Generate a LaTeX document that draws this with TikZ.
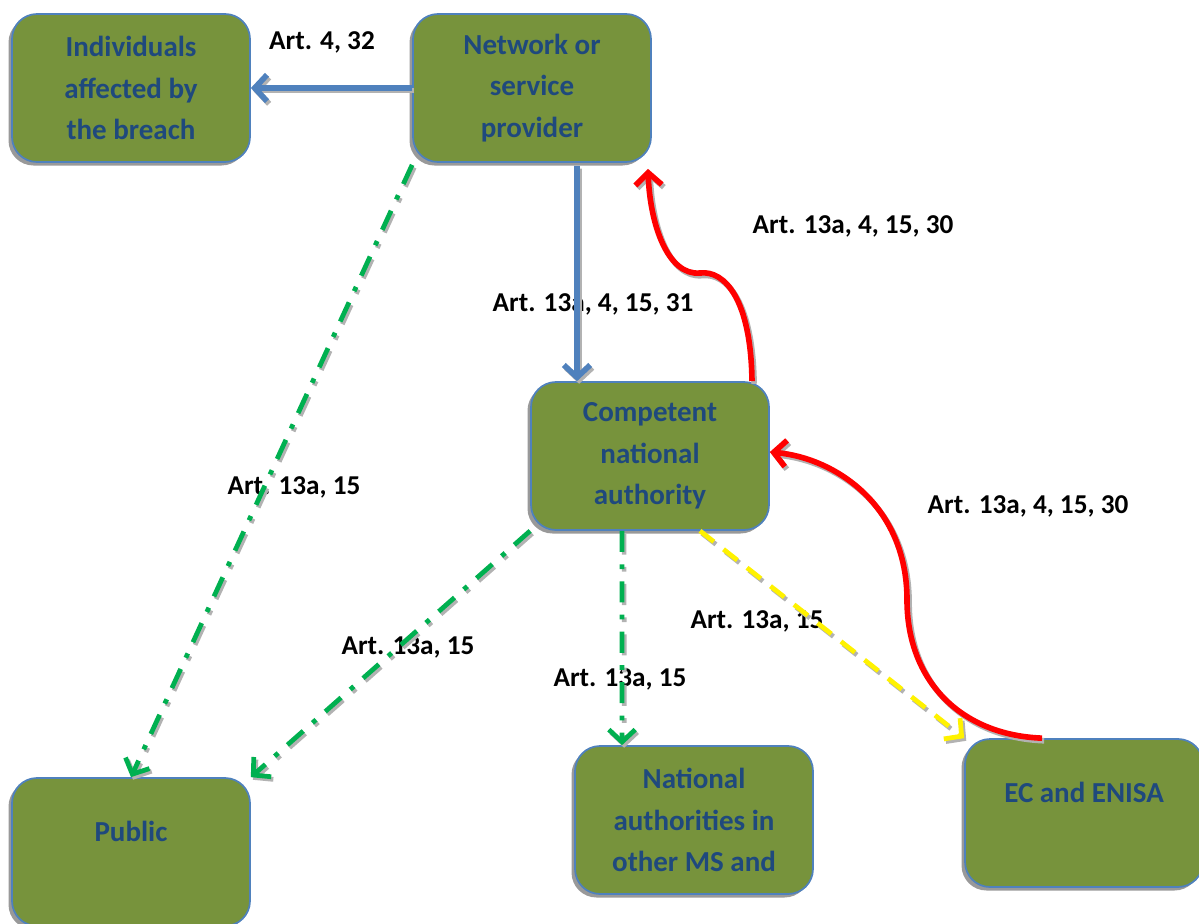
\documentclass[tikz,border=0pt]{standalone}
\usepackage{fontspec}
\setmainfont{Carlito}
\usetikzlibrary{arrows,arrows.meta,shadows}
\definecolor{boxfill}{HTML}{77933C}
\definecolor{boxline}{HTML}{4F81BD}
\definecolor{boxtext}{HTML}{1F497D}
\definecolor{artblue}{HTML}{4F81BD}
\definecolor{artgreen}{HTML}{00B050}

\begin{document}
\begin{tikzpicture}[x=0.02cm, y=-0.02cm, >={Straight Barb[length=7pt,width=15pt]}]
      \tikzstyle{party} = [draw=boxline, line width=1pt, fill=boxfill, rounded corners=0.5cm, minimum width=4.76cm, minimum height=2.96cm, inner sep=0pt, align=center, text=boxtext, font=\fontsize{16.5}{23.5}\selectfont\bfseries, drop shadow={shadow xshift=-2pt, shadow yshift=-2pt, fill=black!40, opacity=1}]
      \tikzstyle{art} = [font=\fontsize{15.5}{18}\selectfont\bfseries, inner sep=0pt]
      \tikzstyle{notify} = [->, line width=3.2pt, artblue, preaction={draw=black!30, line width=3.2pt, transform canvas={xshift=1.2pt, yshift=-1.5pt}}]
      \tikzstyle{reply} = [->, line width=3.2pt, red, preaction={draw=black!30, line width=3.2pt, transform canvas={xshift=1.2pt, yshift=-1.5pt}}]
      \tikzstyle{bcast} = [->, line width=2.7pt, artgreen, dash pattern=on 12pt off 7pt on 2.7pt off 7pt, preaction={draw=black!30, line width=2.7pt, dash pattern=on 12pt off 7pt on 2.7pt off 7pt, transform canvas={xshift=1.2pt, yshift=-1.5pt}}]
      \tikzstyle{forward} = [->, line width=2.7pt, yellow, dash pattern=on 10pt off 7pt, preaction={draw=black!30, line width=2.7pt, dash pattern=on 10pt off 7pt, transform canvas={xshift=1.2pt, yshift=-1.5pt}}]
      \useasboundingbox (0,0) rectangle (1199,923);
      % labels sit under the lines
      \path
	node[art] (a1) at (322,42) {Art. 4, 32}
	node[art] (a2) at (593,304) {Art. 13a, 4, 15, 31}
	node[art] (a3) at (853,226) {Art. 13a, 4, 15, 30}
	node[art] (a4) at (1028,506) {Art. 13a, 4, 15, 30}
	node[art] (a5) at (294,487) {Art. 13a, 15}
	node[art] (a6) at (408,647) {Art. 13a, 15}
	node[art] (a7) at (620,679) {Art. 13a, 15}
	node[art] (a8) at (757,621) {Art. 13a, 15}
	;
      \path
	node[party] (ind) at (131,88) {Individuals\\affected by\\the breach}
	node[party] (net) at (532,88) {Network or\\service\\provider}
	node[party] (cna) at (650,456) {Competent\\national\\authority}
	node[party] (pub) at (131,852) {Public\\~}
	node[party] (nat) at (694,820) {National\\authorities in\\other MS and}
	node[party] (ec) at (1084,813) {EC and ENISA\\~}
	;
      \path
	(net.west) edge[notify] (ind.east)
	([xshift=0.9cm, yshift=-0.06cm]net.south) edge[notify] ([xshift=-1.46cm]cna.north)
	([yshift=-0.04cm]net.south west) edge[bcast] (pub.north)
	(cna.south west) edge[bcast] (pub.north east)
	([xshift=-0.56cm]cna.south) edge[bcast] ([xshift=-1.44cm]nat.north)
	([xshift=1.0cm]cna.south) edge[forward] (ec.north west)
	;
      \draw[reply] ([xshift=2.04cm]cna.north) .. controls (751,300) and (725,270) .. (700,273)
	.. controls (668,276) and (650,225) .. ([xshift=2.32cm, yshift=-0.12cm]net.south);
      \draw[reply] ([xshift=-0.84cm]ec.north) .. controls (960,735) and (907,680) .. (907,600)
	.. controls (907,505) and (835,458) .. ([yshift=0.08cm]cna.east);
    \end{tikzpicture}
\end{document}
